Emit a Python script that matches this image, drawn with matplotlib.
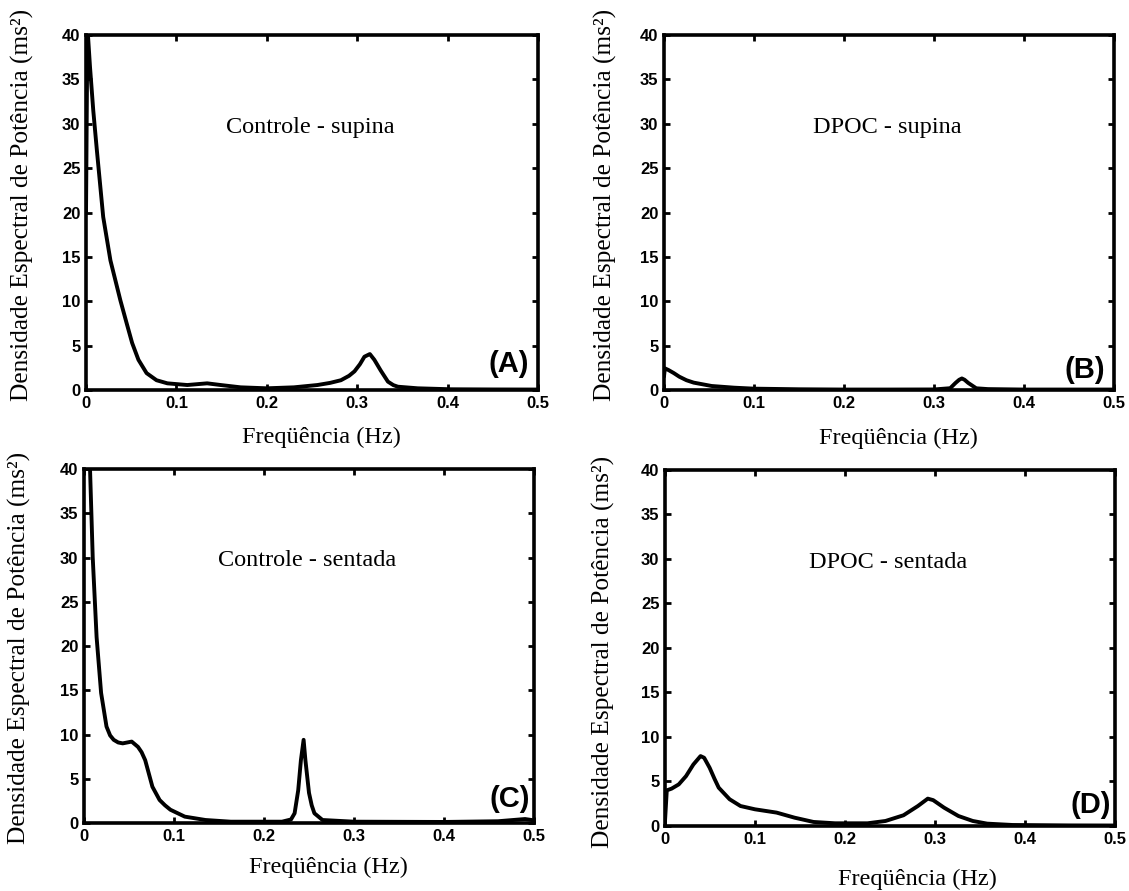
import matplotlib
matplotlib.use("Agg")
import matplotlib.pyplot as plt

SERIF = "Liberation Serif"
SANS = "Liberation Sans"

# Controle - supina
freq_a = [0.0, 0.0015, 0.0044, 0.008, 0.012, 0.019, 0.027, 0.038, 0.045, 0.051, 0.058,
          0.067, 0.078, 0.090, 0.112, 0.134, 0.149, 0.171, 0.200, 0.230, 0.256, 0.270,
          0.282, 0.291, 0.297, 0.303, 0.308, 0.314, 0.319, 0.326, 0.334, 0.340, 0.345,
          0.367, 0.404, 0.450, 0.500]
psd_a = [20.0, 41.0, 36.4, 31.5, 27.0, 19.5, 14.6, 10.1, 7.5, 5.3, 3.4,
         1.9, 1.1, 0.75, 0.56, 0.75, 0.56, 0.30, 0.19, 0.30, 0.56, 0.8,
         1.1, 1.6, 2.1, 2.9, 3.75, 4.05, 3.4, 2.2, 0.94, 0.55, 0.37,
         0.19, 0.08, 0.06, 0.05]

# DPOC - supina
freq_b = [0.0, 0.001, 0.005, 0.011, 0.017, 0.025, 0.033, 0.053, 0.078, 0.100, 0.150,
          0.200, 0.250, 0.300, 0.318, 0.324, 0.328, 0.331, 0.334, 0.338, 0.347, 0.360,
          0.400, 0.500]
psd_b = [1.5, 2.44, 2.25, 1.9, 1.5, 1.1, 0.83, 0.45, 0.26, 0.15, 0.08,
         0.05, 0.05, 0.06, 0.2, 0.8, 1.15, 1.3, 1.15, 0.8, 0.19, 0.1,
         0.05, 0.05]

# Controle - sentada
freq_c = [0.005, 0.0067, 0.0097, 0.014, 0.019, 0.025, 0.029, 0.033, 0.038, 0.043, 0.053,
          0.060, 0.064, 0.068, 0.072, 0.076, 0.084, 0.090, 0.096, 0.112, 0.135, 0.163,
          0.220, 0.230, 0.234, 0.238, 0.241, 0.244, 0.246, 0.250, 0.253, 0.256, 0.265,
          0.300, 0.400, 0.460, 0.490, 0.500]
psd_c = [46.0, 40.0, 30.0, 21.0, 14.7, 10.9, 9.9, 9.4, 9.1, 9.0, 9.2,
         8.6, 8.0, 7.1, 5.6, 4.1, 2.6, 2.0, 1.5, 0.72, 0.34, 0.15,
         0.15, 0.4, 1.1, 3.7, 7.1, 9.4, 7.1, 3.4, 2.0, 1.1, 0.34,
         0.15, 0.12, 0.2, 0.45, 0.3]

# DPOC - sentada
freq_d = [0.0, 0.002, 0.0073, 0.0153, 0.0234, 0.0315, 0.0395, 0.0435, 0.0496, 0.0550, 0.0597,
          0.0718, 0.0839, 0.100, 0.124, 0.144, 0.165, 0.189, 0.225, 0.245, 0.265, 0.281,
          0.292, 0.298, 0.310, 0.326, 0.342, 0.358, 0.386, 0.450, 0.500]
psd_d = [0.5, 4.0, 4.19, 4.67, 5.6, 6.9, 7.85, 7.66, 6.54, 5.3, 4.3,
         3.0, 2.24, 1.87, 1.5, 0.93, 0.45, 0.3, 0.3, 0.56, 1.2, 2.24,
         3.07, 2.9, 2.06, 1.12, 0.56, 0.26, 0.11, 0.06, 0.05]

panel_titles = ["Controle - supina", "DPOC - supina", "Controle - sentada", "DPOC - sentada"]
panel_letters = ["(A)", "(B)", "(C)", "(D)"]
x_ticks = [0, 0.1, 0.2, 0.3, 0.4, 0.5]
x_ticklabels = ["0", "0.1", "0.2", "0.3", "0.4", "0.5"]
y_ticks = [0, 5, 10, 15, 20, 25, 30, 35, 40]

# axes rectangles in figure fractions (left, bottom, width, height)
rects = [
    (0.0762, 0.5623, 0.4003, 0.3984),
    (0.5881, 0.5623, 0.3986, 0.3984),
    (0.0744, 0.0763, 0.3986, 0.3973),
    (0.5890, 0.0730, 0.3986, 0.3996),
]
letter_pos = [(0.490, 2.9), (0.490, 2.2), (0.496, 2.7), (0.496, 2.4)]
xlabel_pos = [(0.52, -0.104), (0.52, -0.107), (0.544, -0.095), (0.561, -0.12)]
ylabel_pos = [(-0.115, 0.52), (-0.105, 0.52), (-0.117, 0.494), (-0.11, 0.49)]

series = [(freq_a, psd_a), (freq_b, psd_b), (freq_c, psd_c), (freq_d, psd_d)]

fig = plt.figure(figsize=(11.29, 8.91), dpi=100)

for i, (fx, py) in enumerate(series):
    ax = fig.add_axes(rects[i])
    ax.plot(fx, py, color="black", lw=2.8, solid_joinstyle="round", solid_capstyle="round")
    ax.set_xlim(0, 0.5)
    ax.set_ylim(0, 40)
    ax.set_xticks(x_ticks)
    ax.set_xticklabels(x_ticklabels)
    ax.set_yticks(y_ticks)
    for s in ax.spines.values():
        s.set_linewidth(2.6)
    ax.tick_params(direction="in", length=4, width=2, top=True, right=True, pad=4)
    for lab in ax.get_xticklabels() + ax.get_yticklabels():
        lab.set_fontfamily(SANS)
        lab.set_fontweight("bold")
        lab.set_fontsize(12)
    ax.set_xlabel("Freqüência (Hz)", family=SERIF, fontsize=17.5)
    ax.xaxis.set_label_coords(*xlabel_pos[i])
    ax.set_ylabel("Densidade Espectral de Potência (ms²)", family=SERIF, fontsize=18.3)
    ax.yaxis.set_label_coords(*ylabel_pos[i])
    ax.text(0.248, 29.0, panel_titles[i], family=SERIF, fontsize=17.5,
            ha="center", va="baseline")
    lx, ly = letter_pos[i]
    ax.text(lx, ly, panel_letters[i], family=SANS, fontweight="bold", fontsize=21,
            ha="right", va="center")

fig.savefig("out.png", dpi=100)
